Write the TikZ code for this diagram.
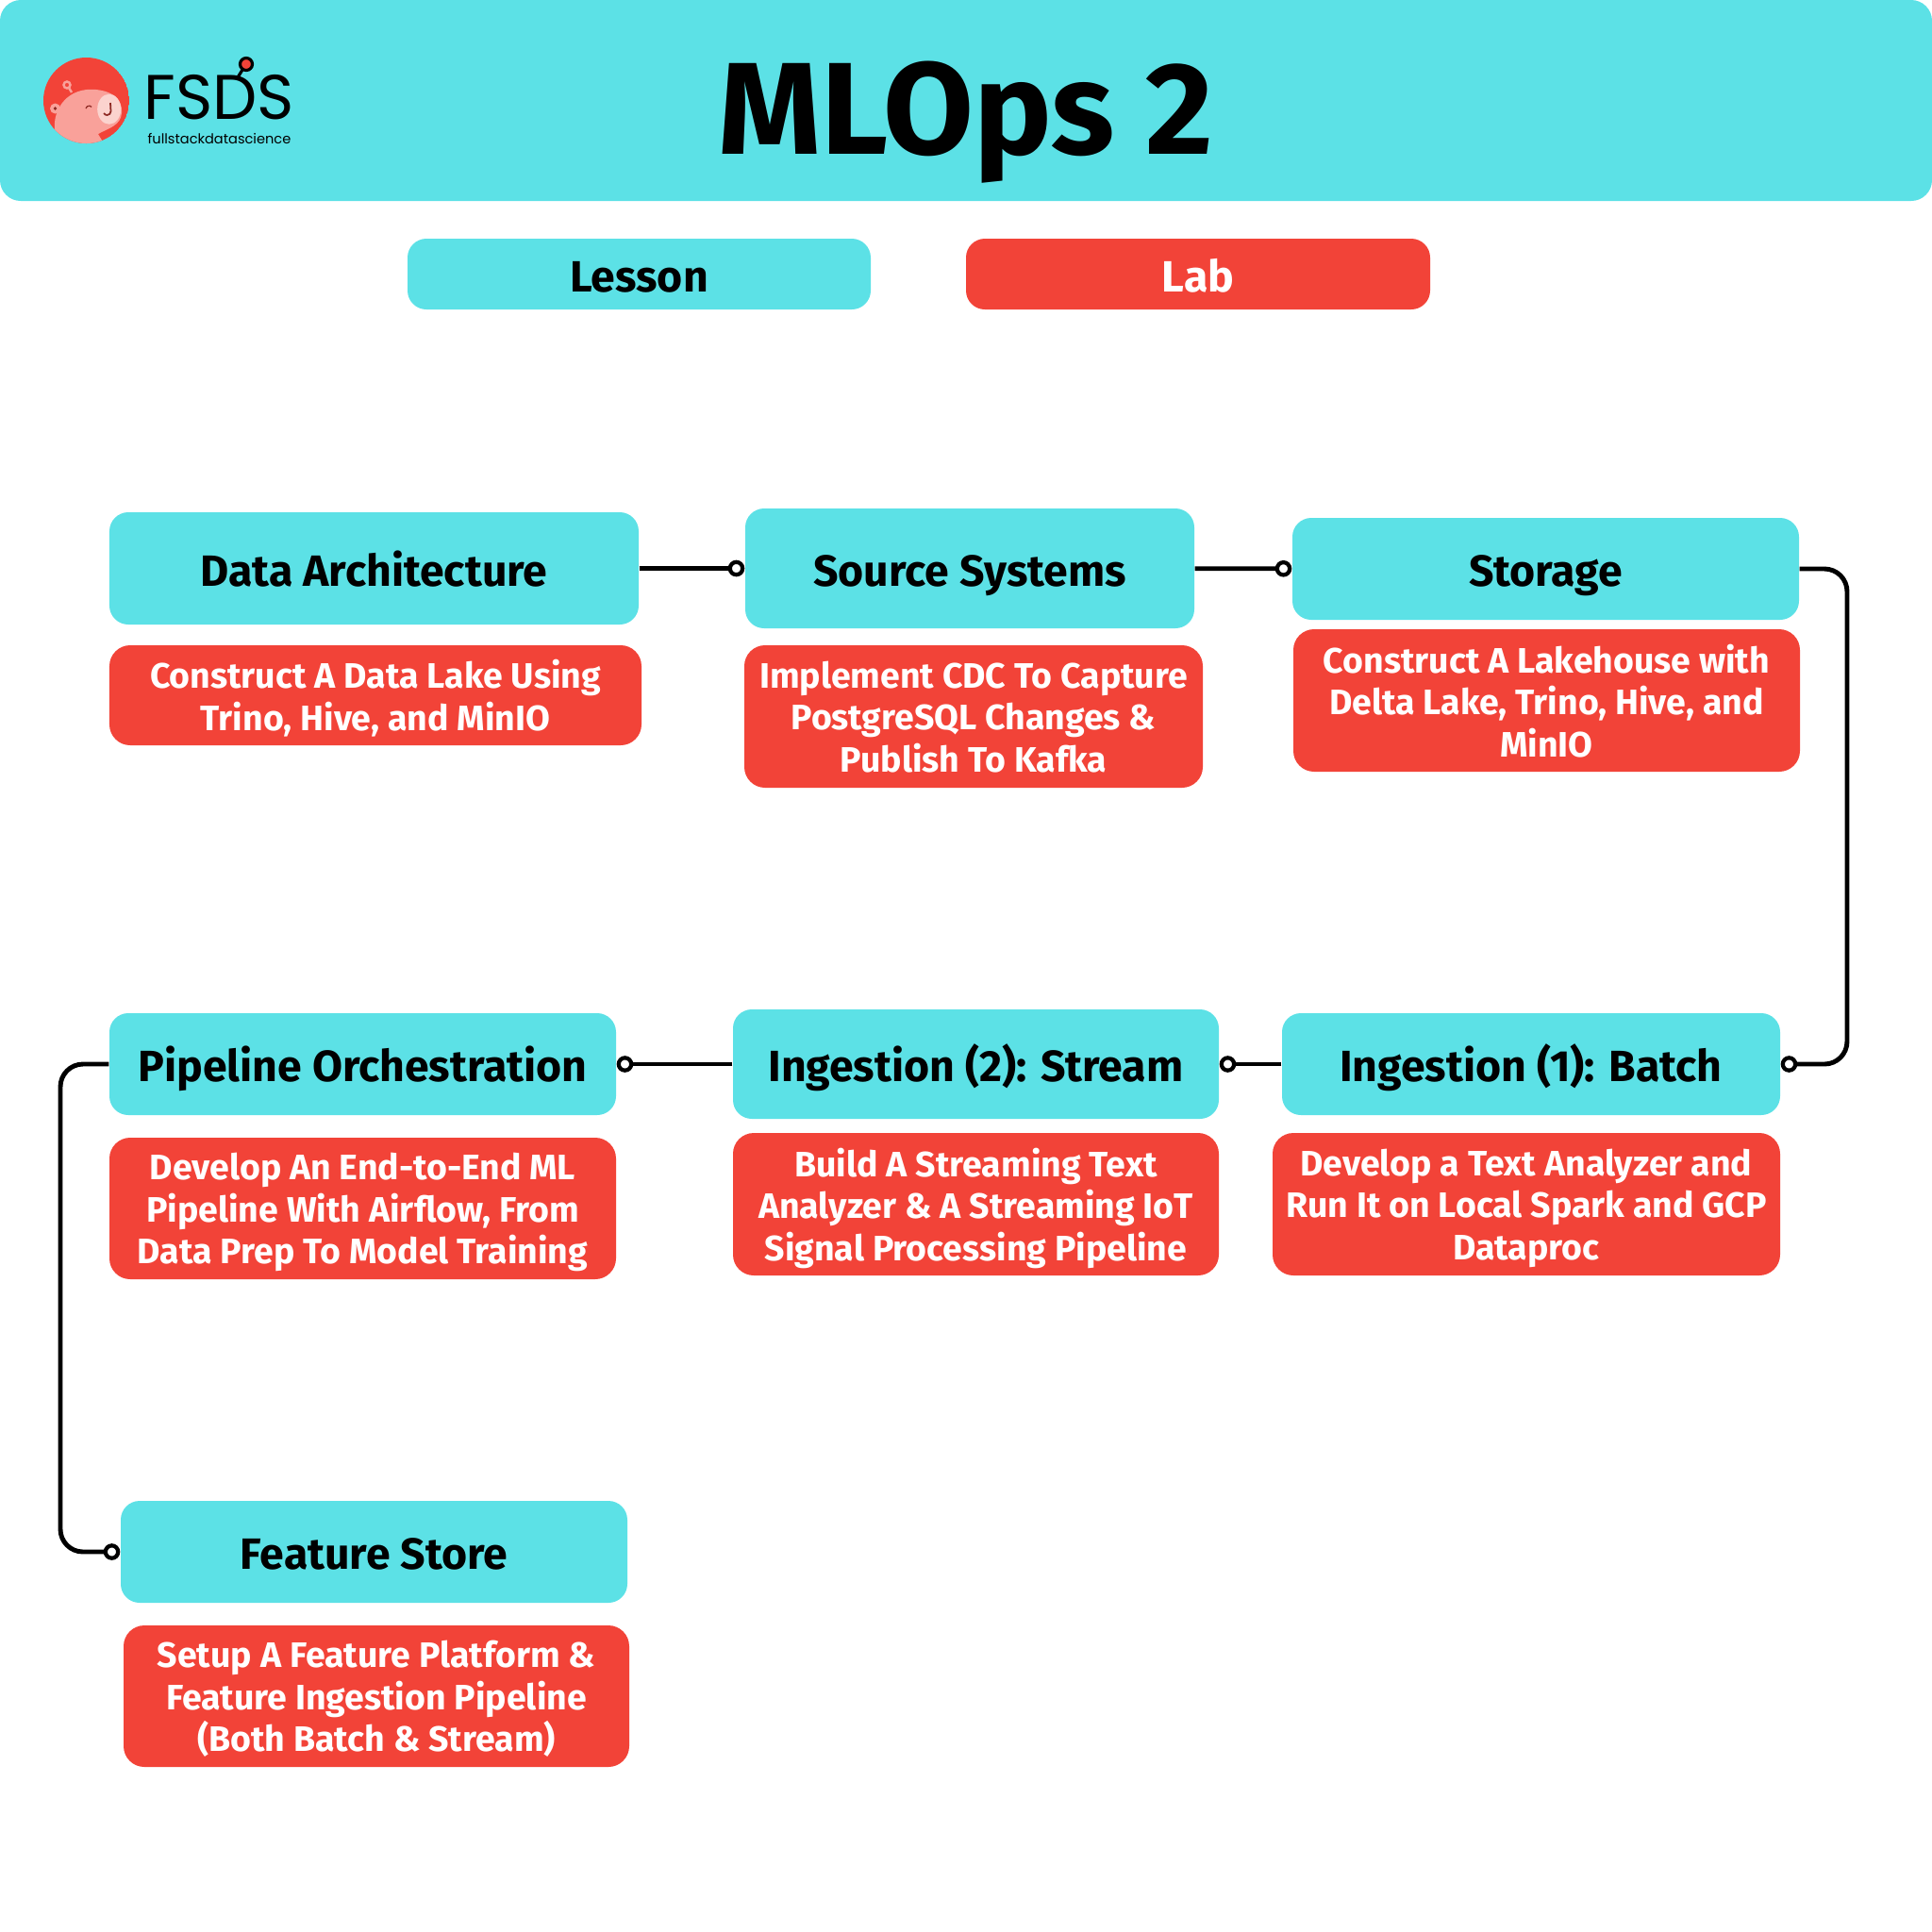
\documentclass[tikz,border=0pt]{standalone}
\usepackage{fontspec}
\setmainfont{Fira Sans}
\newfontfamily\logofont{Poppins}
\usetikzlibrary{arrows.meta}
\definecolor{lessoncyan}{HTML}{5CE1E6}
\definecolor{labred}{HTML}{F24338}
\definecolor{capypink}{HTML}{F9A19A}
\definecolor{capymuzzle}{HTML}{FBD3CE}
\definecolor{capydark}{HTML}{8E2A24}
\tikzset{
  lesson/.style={fill=lessoncyan,rounded corners=0.2cm,inner sep=0pt,align=center,
    text height=12.6pt,text depth=2pt,font=\fontsize{13.2}{15}\selectfont\bfseries},
  lab/.style={fill=labred,text=white,rounded corners=0.22cm,inner sep=0pt,align=center,
    text depth=0pt,font=\fontsize{10.66}{12.66}\selectfont\bfseries},
  link/.style={line width=1.4pt,rounded corners=0.24cm,
    -{Circle[open,fill=white,length=5pt,width=5pt,line width=1.2pt]}}
}

\begin{document}
\begin{tikzpicture}
  \useasboundingbox (0,0) rectangle (20.48,-20.48);

  % header
  \fill[lessoncyan,rounded corners=0.22cm] (0,0) rectangle (20.48,-2.13);
  \node[font=\fontsize{39.5}{48}\selectfont\bfseries,inner sep=0pt,anchor=base] (title) at (10.24,-1.633) {MLOps 2};

  % logo
  \begin{scope}
    \clip (0.915,-1.065) circle (0.455);
    \fill[labred] (0.915,-1.065) circle (0.455);
    \fill[capypink] (0.58,-1.37) .. controls (0.56,-1.15) and (0.72,-0.92) .. (1.02,-0.95)
      .. controls (1.20,-0.97) and (1.30,-1.05) .. (1.29,-1.20)
      .. controls (1.28,-1.33) and (1.15,-1.36) .. (1.04,-1.42)
      -- (1.10,-1.52) -- (0.58,-1.55) -- cycle;
    \fill[capymuzzle] (1.157,-1.157) ellipse (0.125 and 0.16);
    \fill[capypink] (0.585,-1.15) circle (0.055);
    \fill[capydark] (0.585,-1.15) circle (0.018);
    \draw[capydark,line width=0.35pt] (0.91,-1.15) arc (170:40:0.035);
    \draw[capydark,line width=0.5pt] (1.17,-1.09) -- (1.175,-1.18) arc (0:-150:0.04);
    \draw[capypink,line width=0.7pt] (0.76,-0.98) -- (0.73,-0.93);
    \draw[capypink,line width=0.7pt] (0.71,-0.90) circle (0.035);
  \end{scope}
  \node[font=\logofont\fontsize{19}{22}\selectfont,inner sep=0pt,anchor=base,text height=13pt,text depth=0pt] (fsds) at (2.325,-1.26) {FSDS};
  \draw[line width=0.9pt] (2.52,-0.82) -- (2.57,-0.74);
  \draw[line width=0.9pt,fill=labred] (2.61,-0.68) circle (0.065);
  \node[font=\logofont\fontsize{4.15}{5}\selectfont,inner sep=0pt,anchor=base,text height=3.5pt,text depth=0.5pt] (fsdsname) at (2.325,-1.52) {fullstackdatascience};

  % legend
  \node[lesson,minimum width=4.91cm,minimum height=0.75cm] (lessonkey) at (6.775,-2.905) {Lesson};
  \node[lesson,fill=labred,text=white,minimum width=4.92cm,minimum height=0.75cm] (labkey) at (12.70,-2.905) {Lab};

  % first row
  \node[lesson,minimum width=5.61cm,minimum height=1.19cm] (arch) at (3.965,-6.025) {Data Architecture};
  \node[lesson,minimum width=4.76cm,minimum height=1.27cm] (source) at (10.28,-6.025) {Source Systems};
  \node[lesson,minimum width=5.37cm,minimum height=1.08cm] (storage) at (16.385,-6.03) {Storage};
  \node[lab,minimum width=5.64cm,minimum height=1.06cm] (archlab) at (3.98,-7.37) {Construct A Data Lake Using\\Trino, Hive, and MinIO};
  \node[lab,minimum width=4.86cm,minimum height=1.51cm] (sourcelab) at (10.32,-7.595) {Implement CDC To Capture\\PostgreSQL Changes \&\\Publish To Kafka};
  \node[lab,minimum width=5.37cm,minimum height=1.51cm] (storagelab) at (16.395,-7.425) {Construct A Lakehouse with\\Delta Lake, Trino, Hive, and\\MinIO};

  % second row
  \node[lesson,minimum width=5.37cm,minimum height=1.08cm] (orch) at (3.845,-11.28) {Pipeline Orchestration};
  \node[lesson,minimum width=5.15cm,minimum height=1.16cm] (stream) at (10.345,-11.28) {Ingestion (2): Stream};
  \node[lesson,minimum width=5.28cm,minimum height=1.08cm] (batch) at (16.23,-11.28) {Ingestion (1): Batch};
  \node[lab,minimum width=5.37cm,minimum height=1.50cm] (orchlab) at (3.845,-12.81) {Develop An End-to-End ML\\Pipeline With Airflow, From\\Data Prep To Model Training};
  \node[lab,minimum width=5.15cm,minimum height=1.51cm] (streamlab) at (10.345,-12.765) {Build A Streaming Text\\Analyzer \& A Streaming IoT\\Signal Processing Pipeline};
  \node[lab,minimum width=5.38cm,minimum height=1.51cm] (batchlab) at (16.18,-12.765) {Develop a Text Analyzer and\\Run It on Local Spark and GCP\\Dataproc};

  % last row
  \node[lesson,minimum width=5.37cm,minimum height=1.08cm] (feature) at (3.965,-16.45) {Feature Store};
  \node[lab,minimum width=5.36cm,minimum height=1.50cm] (featurelab) at (3.99,-17.98) {Setup A Feature Platform \&\\Feature Ingestion Pipeline\\(Both Batch \& Stream)};

  % bend points
  \coordinate (bendright) at (19.58,-8.5);
  \coordinate (bendleft) at (0.64,-14);

  \draw[link] (arch) -- (source);
  \draw[link] (source) -- (storage);
  \draw[link] (storage.east) -| (bendright) |- (batch.east);
  \draw[link] (batch) -- (stream);
  \draw[link] (stream) -- (orch);
  \draw[link] (orch.west) -| (bendleft) |- (feature.west);

\end{tikzpicture}
\end{document}
